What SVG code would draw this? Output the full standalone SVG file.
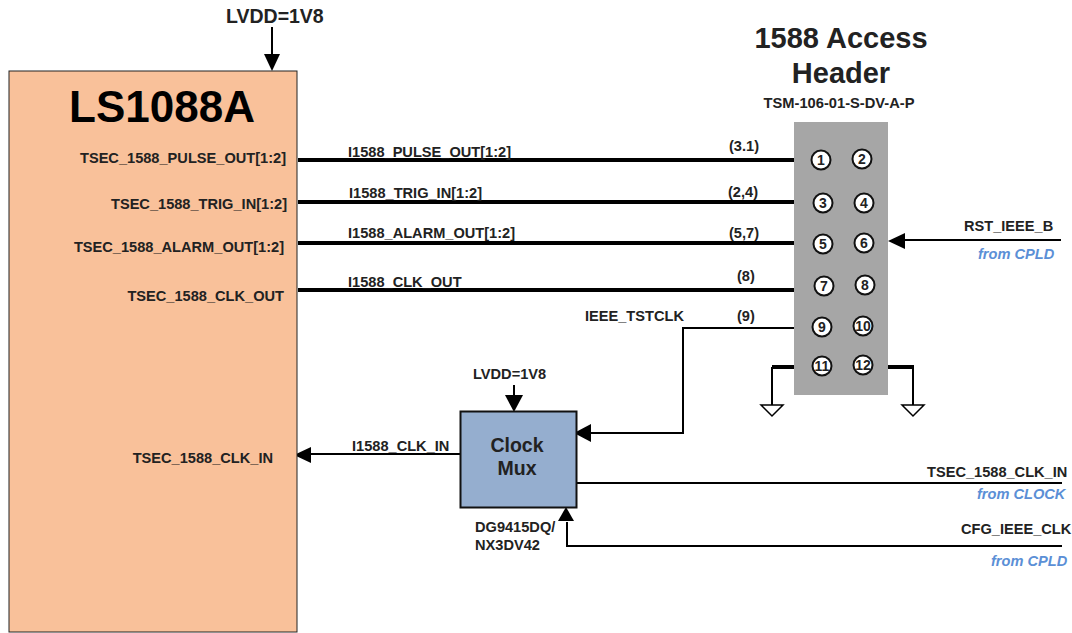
<svg xmlns="http://www.w3.org/2000/svg" width="1072" height="633" viewBox="0 0 1072 633">
<style>
text{font-family:"Liberation Sans",Arial,sans-serif;font-weight:700;fill:#222}
.s{font-size:14.6px}
.f{font-size:14.6px;font-style:italic;fill:#5b8fd6}
.p{font-size:14px;text-anchor:middle}
.w{stroke:#000;fill:none;stroke-width:4}
.t{stroke:#000;fill:none;stroke-width:2}
.pin{fill:#fff;stroke:#111;stroke-width:2}
.g{fill:#fff;stroke:#000;stroke-width:1.5}
</style>
<rect width="1072" height="633" fill="#fff"/>
<g id="connectors">
<path class="t" d="M272 27V56"/><path d="M264 54h16l-8 17z" fill="#000"/>
<path class="w" d="M298 160H794M298 202H794M298 243H794M298 290H794"/>
<path class="t" d="M794 328H683V433H590"/><path d="M574 433l17-9v18z" fill="#000"/>
<path class="t" d="M514 385V396"/><path d="M505 395h18l-9 17z" fill="#000"/>
<path class="t" d="M460 454H310"/><path d="M294 455l17-8v16z" fill="#000"/>
<path class="t" d="M577 483H1062" stroke-width="2.5"/>
<path class="t" d="M1062 546H567V522"/><path d="M566 507l8 14h-16z" fill="#000"/>
<path class="t" d="M1061 240H902" stroke-width="2.5"/><path d="M888 241l17-8v16z" fill="#000"/>
<path class="w" d="M794 367H772M887 367H914"/>
<path class="t" d="M772 367V405M913 367V405"/>
<path class="g" d="M761 405H783L772 416zM902 405H924L913 416z"/>
</g>
<g id="ls1088a">
<rect x="9" y="71" width="288" height="561" fill="#f9c19a" stroke="#222" stroke-width="1"/>
<text x="162" y="122" font-size="44" text-anchor="middle" style="fill:#000">LS1088A</text>
<g class="s" text-anchor="end">
<text x="286" y="163">TSEC_1588_PULSE_OUT[1:2]</text>
<text x="287" y="209">TSEC_1588_TRIG_IN[1:2]</text>
<text x="284" y="252">TSEC_1588_ALARM_OUT[1:2]</text>
<text x="284" y="301">TSEC_1588_CLK_OUT</text>
<text x="273" y="463">TSEC_1588_CLK_IN</text>
</g>
</g>
<g id="labels" class="s">
<text x="226" y="23" style="font-size:19.5px">LVDD=1V8</text>
<text x="348" y="157">I1588_PULSE_OUT[1:2]</text>
<text x="349" y="198">I1588_TRIG_IN[1:2]</text>
<text x="348" y="238">I1588_ALARM_OUT[1:2]</text>
<text x="348" y="287">I1588_CLK_OUT</text>
<text x="585" y="321">IEEE_TSTCLK</text>
<text x="352" y="451">I1588_CLK_IN</text>
<text x="729" y="151">(3.1)</text>
<text x="728" y="197">(2,4)</text>
<text x="729" y="238">(5,7)</text>
<text x="737" y="281">(8)</text>
<text x="737" y="321">(9)</text>
<text x="964" y="231">RST_IEEE_B</text>
<text x="978" y="259" class="f">from CPLD</text>
<text x="927" y="477">TSEC_1588_CLK_IN</text>
<text x="977" y="499" class="f">from CLOCK</text>
<text x="961" y="534">CFG_IEEE_CLK</text>
<text x="991" y="566" class="f">from CPLD</text>
</g>
<g id="header">
<text x="841" y="48" font-size="29" text-anchor="middle">1588 Access</text>
<text x="841" y="83" font-size="29" text-anchor="middle">Header</text>
<text x="839" y="108" font-size="14.700" text-anchor="middle">TSM-106-01-S-DV-A-P</text>
<rect x="794" y="122" width="94" height="273" fill="#a6a6a6"/>
<g id="pin-1"><circle class="pin" cx="821" cy="160" r="9.5"/><text class="p" x="821" y="165">1</text></g>
<g id="pin-2"><circle class="pin" cx="862" cy="159" r="9.5"/><text class="p" x="862" y="164">2</text></g>
<g id="pin-3"><circle class="pin" cx="823" cy="203" r="9.5"/><text class="p" x="823" y="208">3</text></g>
<g id="pin-4"><circle class="pin" cx="864" cy="203" r="9.5"/><text class="p" x="864" y="208">4</text></g>
<g id="pin-5"><circle class="pin" cx="823" cy="244" r="9.5"/><text class="p" x="823" y="249">5</text></g>
<g id="pin-6"><circle class="pin" cx="864" cy="243" r="9.5"/><text class="p" x="864" y="248">6</text></g>
<g id="pin-7"><circle class="pin" cx="824" cy="286" r="9.5"/><text class="p" x="824" y="291">7</text></g>
<g id="pin-8"><circle class="pin" cx="865" cy="285" r="9.5"/><text class="p" x="865" y="290">8</text></g>
<g id="pin-9"><circle class="pin" cx="822" cy="327" r="9.5"/><text class="p" x="822" y="332">9</text></g>
<g id="pin-10"><circle class="pin" cx="863" cy="326" r="9.5"/><text class="p" x="863" y="331">10</text></g>
<g id="pin-11"><circle class="pin" cx="822" cy="366" r="9.5"/><text class="p" x="822" y="371">11</text></g>
<g id="pin-12"><circle class="pin" cx="863" cy="365" r="9.5"/><text class="p" x="863" y="370">12</text></g>
</g>
<g id="clock-mux">
<rect x="460.500" y="411.500" width="116" height="96" fill="#95aecf" stroke="#111" stroke-width="2"/>
<text x="517" y="452" font-size="19.500" text-anchor="middle">Clock</text>
<text x="517" y="475" font-size="19.500" text-anchor="middle">Mux</text>
<text x="473" y="379" class="s">LVDD=1V8</text>
<text x="475" y="532" class="s">DG9415DQ/</text>
<text x="475" y="550" class="s">NX3DV42</text>
</g>
</svg>
